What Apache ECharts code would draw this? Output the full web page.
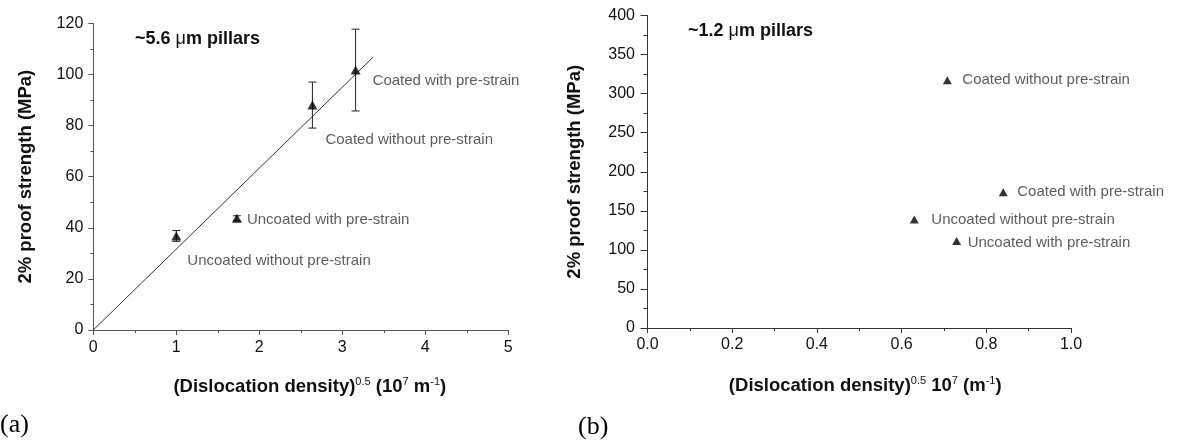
<!DOCTYPE html>
<html>
<head>
<meta charset="utf-8">
<script src="https://cdn.jsdelivr.net/npm/echarts@6/dist/echarts.min.js"></script>
<style>
  html, body { margin: 0; padding: 0; background: #fff; }
  #chart { width: 1177px; height: 445px; }
</style>
</head>
<body>
<div id="chart"></div>
<script>
// Panel (a): ~5.6 um pillars
const namesA = ['Uncoated without pre-strain', 'Uncoated with pre-strain', 'Coated without pre-strain', 'Coated with pre-strain'];
const xA = [1.0, 1.73, 2.64, 3.16];
const yA = [36.8, 43.7, 88.0, 101.7];
const errA = [2.1, 1.0, 9.0, 16.0];
// Linear fit through the origin
const fitX = [0, 3.37];
const fitY = [0, 106.7];

// Panel (b): ~1.2 um pillars
const namesB = ['Uncoated without pre-strain', 'Uncoated with pre-strain', 'Coated without pre-strain', 'Coated with pre-strain'];
const xB = [0.63, 0.73, 0.708, 0.84];
const yB = [139, 111.4, 317, 173.7];

// Label placement (pixels from each marker centre)
const labelOffsetA = [[11, 25], [10, 2], [13, 35], [17, 11]];
const labelOffsetB = [[17, 0], [11, 2], [15, 0], [14, 0]];

const FONT = '"Liberation Sans", Arial, sans-serif';
const SERIF = '"Liberation Serif", "Times New Roman", serif';

function axisName(size) {
  return {
    b: { fontSize: size, fontWeight: 'bold', fontFamily: FONT, color: '#111', lineHeight: 22 },
    s: { fontSize: 11, fontWeight: 'normal', fontFamily: FONT, color: '#111', verticalAlign: 'top', lineHeight: 12 }
  };
}

function valueAxis(opts) {
  return Object.assign({
    type: 'value',
    nameLocation: 'middle',
    axisLine: { show: true, onZero: false, lineStyle: { color: opts.color, width: 1 } },
    axisTick: { show: true, inside: false, length: 5, lineStyle: { color: opts.color } },
    minorTick: { show: true, splitNumber: 2, length: 3, lineStyle: { color: opts.color } },
    splitLine: { show: false },
    axisLabel: { fontFamily: FONT, fontSize: 16, color: '#111', margin: 10, showMinLabel: true, showMaxLabel: true }
  }, opts.extra);
}

const chart = echarts.init(document.getElementById('chart'), null, { renderer: 'canvas' });

function errorBar(params, api) {
  const x = api.value(0);
  const lo = api.coord([x, api.value(1)]);
  const hi = api.coord([x, api.value(2)]);
  const cap = 4;
  const st = { stroke: '#222', lineWidth: 1 };
  return {
    type: 'group',
    children: [
      { type: 'line', shape: { x1: hi[0], y1: hi[1], x2: lo[0], y2: lo[1] }, style: st },
      { type: 'line', shape: { x1: hi[0] - cap, y1: hi[1], x2: hi[0] + cap, y2: hi[1] }, style: st },
      { type: 'line', shape: { x1: lo[0] - cap, y1: lo[1], x2: lo[0] + cap, y2: lo[1] }, style: st }
    ]
  };
}

const pointLabel = {
  show: true,
  position: 'inside',
  align: 'left',
  verticalAlign: 'middle',
  fontFamily: FONT,
  fontSize: 15,
  color: '#333'
};

chart.setOption({
  animation: false,
  backgroundColor: '#fff',
  grid: [
    { left: 93.3, top: 23.3, width: 415, height: 306.7 },
    { left: 647.5, top: 15.5, width: 423.5, height: 312.5 }
  ],
  xAxis: [
    valueAxis({ color: '#555', extra: {
      gridIndex: 0, min: 0, max: 5, interval: 1,
      name: '{b|(Dislocation density)}{s|0.5}{b| (10}{s|7}{b| m}{s|-1}{b|)}',
      nameGap: 46,
      nameTextStyle: { rich: axisName(18.5), padding: [0, 0, 0, 18] }
    }}),
    valueAxis({ color: '#333', extra: {
      gridIndex: 1, min: 0, max: 1, interval: 0.2,
      name: '{b|(Dislocation density)}{s|0.5}{b| 10}{s|7}{b| (m}{s|-1}{b|)}',
      nameGap: 47,
      nameTextStyle: { rich: axisName(18.5), padding: [0, 0, 0, 12] },
      axisLabel: { fontFamily: FONT, fontSize: 16, color: '#111', margin: 9, formatter: v => v.toFixed(1) }
    }})
  ],
  yAxis: [
    valueAxis({ color: '#555', extra: {
      gridIndex: 0, min: 0, max: 120, interval: 20,
      name: '2% proof strength (MPa)',
      nameGap: 58,
      nameTextStyle: { fontFamily: FONT, fontSize: 18.5, fontWeight: 'bold', color: '#111' }
    }}),
    valueAxis({ color: '#333', extra: {
      gridIndex: 1, min: 0, max: 400, interval: 50,
      name: '2% proof strength (MPa)',
      nameGap: 63,
      nameTextStyle: { fontFamily: FONT, fontSize: 18.5, fontWeight: 'bold', color: '#111' },
      axisTick: { show: true, length: 7, lineStyle: { color: '#333' } },
      minorTick: { show: true, splitNumber: 2, length: 4, lineStyle: { color: '#333' } },
      axisLabel: { fontFamily: FONT, fontSize: 16, color: '#111', margin: 12.5 }
    }})
  ],
  series: [
    {
      name: 'fit',
      type: 'line',
      xAxisIndex: 0, yAxisIndex: 0,
      data: fitX.map((x, i) => [x, fitY[i]]),
      showSymbol: false,
      lineStyle: { color: '#333', width: 1 },
      z: 1
    },
    {
      name: 'error',
      type: 'custom',
      xAxisIndex: 0, yAxisIndex: 0,
      renderItem: errorBar,
      data: xA.map((x, i) => [x, yA[i] - errA[i], yA[i] + errA[i]]),
      z: 2
    },
    {
      name: '5.6',
      type: 'scatter',
      xAxisIndex: 0, yAxisIndex: 0,
      symbol: 'triangle',
      symbolSize: [10, 9],
      itemStyle: { color: '#000' },
      data: xA.map((x, i) => ({ value: [x, yA[i]], name: namesA[i], label: { offset: labelOffsetA[i] } })),
      label: Object.assign({ formatter: p => p.name }, pointLabel),
      z: 3
    },
    {
      name: '1.2',
      type: 'scatter',
      xAxisIndex: 1, yAxisIndex: 1,
      symbol: 'triangle',
      symbolSize: [9, 8],
      itemStyle: { color: '#000' },
      data: xB.map((x, i) => ({ value: [x, yB[i]], name: namesB[i], label: { offset: labelOffsetB[i] } })),
      label: Object.assign({ formatter: p => p.name }, pointLabel),
      z: 3
    }
  ],
  graphic: [
    {
      type: 'text', left: 135, top: 30,
      style: {
        text: '{t|~5.6 }{m|μ}{t|m pillars}',
        rich: {
          t: { fontFamily: FONT, fontSize: 18, fontWeight: 'bold', fill: '#111' },
          m: { fontFamily: FONT, fontSize: 18, fontWeight: 'normal', fill: '#111' }
        }
      }
    },
    {
      type: 'text', left: 688, top: 22,
      style: {
        text: '{t|~1.2 }{m|μ}{t|m pillars}',
        rich: {
          t: { fontFamily: FONT, fontSize: 18, fontWeight: 'bold', fill: '#111' },
          m: { fontFamily: FONT, fontSize: 18, fontWeight: 'normal', fill: '#111' }
        }
      }
    },
    { type: 'text', left: 0, top: 412, style: { text: '(a)', font: '26px ' + SERIF, fill: '#000' } },
    { type: 'text', left: 578, top: 414, style: { text: '(b)', font: '26px ' + SERIF, fill: '#000' } }
  ]
});
</script>
</body>
</html>
